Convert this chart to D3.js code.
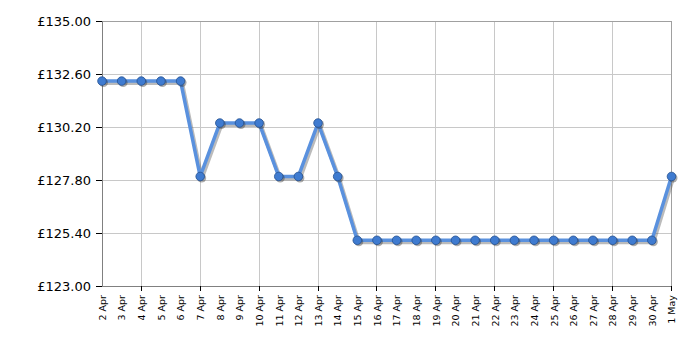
<!DOCTYPE html>
<html>
<head>
<meta charset="utf-8">
<script src="https://cdn.jsdelivr.net/npm/d3@7"></script>
<style>
  body { margin: 0; background: #fff; }
  text { font-family: "DejaVu Sans", Verdana, sans-serif; fill: #000; }
</style>
</head>
<body>
<div id="chart"></div>
<script>
// dates shown on the x axis (2 Apr .. 1 May)
const days = ["2 Apr","3 Apr","4 Apr","5 Apr","6 Apr","7 Apr","8 Apr","9 Apr","10 Apr","11 Apr",
  "12 Apr","13 Apr","14 Apr","15 Apr","16 Apr","17 Apr","18 Apr","19 Apr","20 Apr","21 Apr",
  "22 Apr","23 Apr","24 Apr","25 Apr","26 Apr","27 Apr","28 Apr","29 Apr","30 Apr","1 May"];
// price per day
const prices = [132.28,132.28,132.28,132.28,132.28,127.96,130.38,130.38,130.38,127.96,
  127.96,130.38,127.96,125.07,125.07,125.07,125.07,125.07,125.07,125.07,
  125.07,125.07,125.07,125.07,125.07,125.07,125.07,125.07,125.07,127.96];
const yTicks = [123.0, 125.4, 127.8, 130.2, 132.6, 135.0];

const W = 700, H = 350;
const mLeft = 102, mRight = 671.5, mTop = 21, mBottom = 286;

const svg = d3.select("#chart").append("svg").attr("width", W).attr("height", H);

const x = d3.scalePoint().domain(days).range([mLeft, mRight]);
const y = d3.scaleLinear().domain([123, 135]).range([mBottom, mTop]);

// gridlines
svg.append("g").selectAll("line.h").data(yTicks).join("line")
  .attr("x1", mLeft).attr("x2", mRight)
  .attr("y1", d => y(d)).attr("y2", d => y(d))
  .style("stroke", "#c8c8c8").style("stroke-width", 1).attr("shape-rendering", "crispEdges");

const vDays = days.filter((d, i) => i % 3 === 2 || i === days.length - 1);
svg.append("g").selectAll("line.v").data(vDays).join("line")
  .attr("x1", d => x(d)).attr("x2", d => x(d))
  .attr("y1", mTop).attr("y2", mBottom)
  .style("stroke", "#c8c8c8").style("stroke-width", 1).attr("shape-rendering", "crispEdges");

// frame
svg.append("rect")
  .attr("x", mLeft).attr("y", mTop).attr("width", mRight - mLeft).attr("height", mBottom - mTop)
  .style("fill", "none").style("stroke", "#a0a0a0").attr("shape-rendering", "crispEdges");

// y axis
const yAxis = svg.append("g").attr("transform", `translate(${mLeft},0)`)
  .call(d3.axisLeft(y).tickValues(yTicks).tickSize(6).tickPadding(5)
    .tickFormat(d => "£" + d3.format(".2f")(d)));
yAxis.select(".domain").style("stroke", "#808080");
yAxis.selectAll(".tick line").style("stroke", "#000");
yAxis.selectAll("text").style("font-size", "13px");

// x axis
const xAxis = svg.append("g").attr("transform", `translate(0,${mBottom})`)
  .call(d3.axisBottom(x).tickSize(0).tickPadding(0));
xAxis.select(".domain").style("stroke", "#808080");
xAxis.selectAll(".tick text")
  .attr("transform", "rotate(-90)")
  .attr("x", -9).attr("y", 0).attr("dy", "0.35em")
  .style("text-anchor", "end").style("font-size", "9.5px");
svg.append("g").selectAll("line.xt").data(vDays).join("line")
  .attr("x1", d => x(d)).attr("x2", d => x(d))
  .attr("y1", mBottom).attr("y2", mBottom + 5)
  .style("stroke", "#000").attr("shape-rendering", "crispEdges");

// series
const line = d3.line().x((d, i) => x(days[i])).y(d => y(d));

svg.append("path").datum(prices)
  .attr("d", line).attr("transform", "translate(1.5,2)")
  .style("fill", "none").style("stroke", "#555").style("stroke-opacity", 0.4)
  .style("stroke-width", 4).style("stroke-linejoin", "round");
svg.append("path").datum(prices)
  .attr("d", line)
  .style("fill", "none").style("stroke", "#5a91de")
  .style("stroke-width", 3.5).style("stroke-linejoin", "round");

svg.append("g").selectAll("circle.s").data(prices).join("circle")
  .attr("cx", (d, i) => x(days[i]) + 1.5).attr("cy", d => y(d) + 1.5).attr("r", 4.5)
  .style("fill", "#333").style("fill-opacity", 0.4);
svg.append("g").selectAll("circle.p").data(prices).join("circle")
  .attr("cx", (d, i) => x(days[i])).attr("cy", d => y(d)).attr("r", 4.3)
  .style("fill", "#3f7bd0").style("stroke", "#24508f").style("stroke-width", 0.8);
</script>
</body>
</html>
